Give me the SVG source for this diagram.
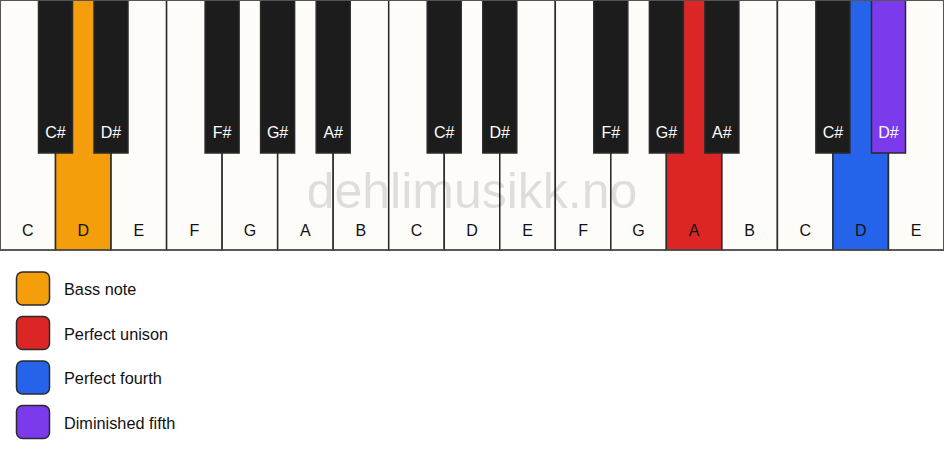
<svg xmlns="http://www.w3.org/2000/svg" width="944" height="461" viewBox="0 0 944 461">
<style>
.w{fill:#fdfcf9;stroke:#2a2a2a;stroke-width:1.5}
.b{fill:#1c1c1c;stroke:#2a2a2a;stroke-width:1.5}
.wl{font-family:"Liberation Sans",Arial,sans-serif;font-size:16px;fill:#111;text-anchor:middle}
.bl{font-family:"Liberation Sans",Arial,sans-serif;font-size:16px;fill:#fff;text-anchor:middle}
.lg{font-family:"Liberation Sans",Arial,sans-serif;font-size:16.3px;fill:#111}
.sw{stroke:#2a2a2a;stroke-width:1.5}
.or{fill:#f59e0b}.rd{fill:#dc2626}.bu{fill:#2563eb}.pu{fill:#7c3aed}
</style>
<rect x="0" y="0" width="944" height="461" fill="#ffffff"/>
<g id="white-keys">
<g id="w0"><rect class="w" x="0" y="0" width="55.53" height="250"/><text class="wl" x="27.8" y="236">C</text></g>
<g id="w1"><rect class="w or" x="55.53" y="0" width="55.53" height="250"/><text class="wl" x="83.3" y="236">D</text></g>
<g id="w2"><rect class="w" x="111.06" y="0" width="55.53" height="250"/><text class="wl" x="138.8" y="236">E</text></g>
<g id="w3"><rect class="w" x="166.59" y="0" width="55.53" height="250"/><text class="wl" x="194.4" y="236">F</text></g>
<g id="w4"><rect class="w" x="222.12" y="0" width="55.53" height="250"/><text class="wl" x="249.9" y="236">G</text></g>
<g id="w5"><rect class="w" x="277.65" y="0" width="55.53" height="250"/><text class="wl" x="305.4" y="236">A</text></g>
<g id="w6"><rect class="w" x="333.18" y="0" width="55.53" height="250"/><text class="wl" x="360.9" y="236">B</text></g>
<g id="w7"><rect class="w" x="388.71" y="0" width="55.53" height="250"/><text class="wl" x="416.5" y="236">C</text></g>
<g id="w8"><rect class="w" x="444.24" y="0" width="55.53" height="250"/><text class="wl" x="472" y="236">D</text></g>
<g id="w9"><rect class="w" x="499.76" y="0" width="55.53" height="250"/><text class="wl" x="527.5" y="236">E</text></g>
<g id="w10"><rect class="w" x="555.29" y="0" width="55.53" height="250"/><text class="wl" x="583.1" y="236">F</text></g>
<g id="w11"><rect class="w" x="610.82" y="0" width="55.53" height="250"/><text class="wl" x="638.6" y="236">G</text></g>
<g id="w12"><rect class="w rd" x="666.35" y="0" width="55.53" height="250"/><text class="wl" x="694.1" y="236">A</text></g>
<g id="w13"><rect class="w" x="721.88" y="0" width="55.53" height="250"/><text class="wl" x="749.6" y="236">B</text></g>
<g id="w14"><rect class="w" x="777.41" y="0" width="55.53" height="250"/><text class="wl" x="805.2" y="236">C</text></g>
<g id="w15"><rect class="w bu" x="832.94" y="0" width="55.53" height="250"/><text class="wl" x="860.7" y="236">D</text></g>
<g id="w16"><rect class="w" x="888.47" y="0" width="55.53" height="250"/><text class="wl" x="916.2" y="236">E</text></g>
</g>
<text id="watermark" x="472" y="208" font-family="'Liberation Sans',Arial,sans-serif" font-size="50" fill="#000" fill-opacity="0.12" text-anchor="middle">dehlimusikk.no</text>
<g id="black-keys">
<g id="b0"><rect class="b" x="38.5" y="0" width="34" height="153"/><text class="bl" x="55.5" y="138">C#</text></g>
<g id="b1"><rect class="b" x="94" y="0" width="34" height="153"/><text class="bl" x="111" y="138">D#</text></g>
<g id="b2"><rect class="b" x="205.1" y="0" width="34" height="153"/><text class="bl" x="222.1" y="138">F#</text></g>
<g id="b3"><rect class="b" x="260.6" y="0" width="34" height="153"/><text class="bl" x="277.6" y="138">G#</text></g>
<g id="b4"><rect class="b" x="316.2" y="0" width="34" height="153"/><text class="bl" x="333.2" y="138">A#</text></g>
<g id="b5"><rect class="b" x="427.2" y="0" width="34" height="153"/><text class="bl" x="444.2" y="138">C#</text></g>
<g id="b6"><rect class="b" x="482.8" y="0" width="34" height="153"/><text class="bl" x="499.8" y="138">D#</text></g>
<g id="b7"><rect class="b" x="593.8" y="0" width="34" height="153"/><text class="bl" x="610.8" y="138">F#</text></g>
<g id="b8"><rect class="b" x="649.4" y="0" width="34" height="153"/><text class="bl" x="666.4" y="138">G#</text></g>
<g id="b9"><rect class="b" x="704.9" y="0" width="34" height="153"/><text class="bl" x="721.9" y="138">A#</text></g>
<g id="b10"><rect class="b" x="815.9" y="0" width="34" height="153"/><text class="bl" x="832.9" y="138">C#</text></g>
<g id="b11"><rect class="b pu" x="871.5" y="0" width="34" height="153"/><text class="bl" x="888.5" y="138">D#</text></g>
</g>
<rect x="0.5" y="0.5" width="943" height="249.5" fill="none" stroke="#555" stroke-width="1"/>
<g id="connectors"></g>
<g id="legend">
<g id="lg-bass"><rect class="sw or" x="16.5" y="272" width="33" height="33" rx="6"/><text class="lg" x="64" y="295">Bass note</text></g>
<g id="lg-unison"><rect class="sw rd" x="16.5" y="316.5" width="33" height="33" rx="6"/><text class="lg" x="64" y="339.5">Perfect unison</text></g>
<g id="lg-fourth"><rect class="sw bu" x="16.5" y="361" width="33" height="33" rx="6"/><text class="lg" x="64" y="384">Perfect fourth</text></g>
<g id="lg-dim5"><rect class="sw pu" x="16.5" y="405.5" width="33" height="33" rx="6"/><text class="lg" x="64" y="428.5">Diminished fifth</text></g>
</g>
</svg>
